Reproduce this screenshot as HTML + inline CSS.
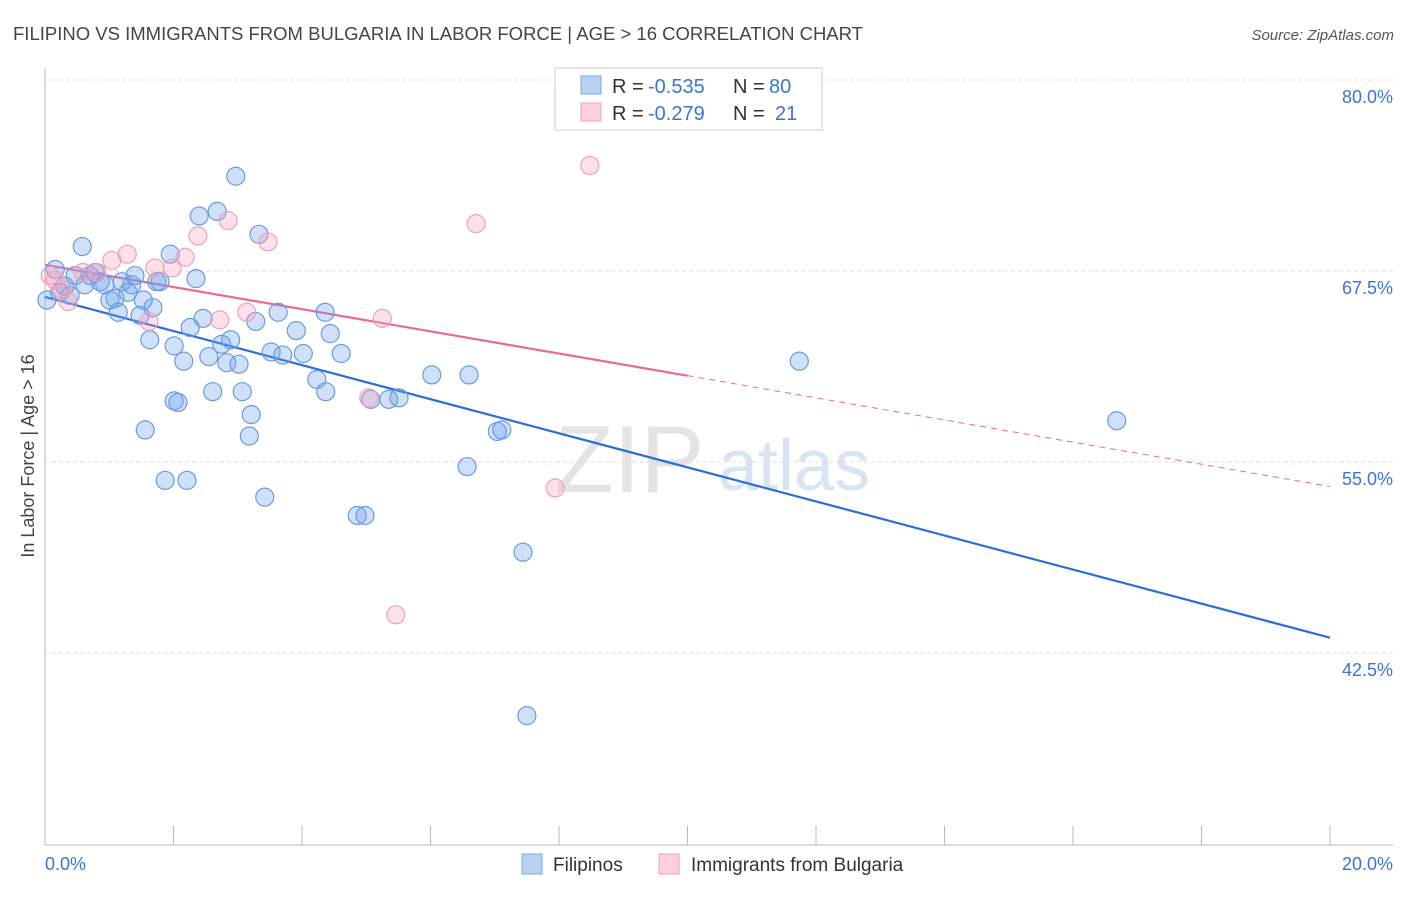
<!DOCTYPE html>
<html><head><meta charset="utf-8"><style>
body{margin:0;background:#fff;font-family:"Liberation Sans",sans-serif;}
svg text{font-family:"Liberation Sans",sans-serif;}
</style></head><body>
<svg id="chart" width="1406" height="892" viewBox="0 0 1406 892" xmlns="http://www.w3.org/2000/svg">
<text x="13" y="40" font-size="18" fill="#444" textLength="850" lengthAdjust="spacingAndGlyphs">FILIPINO VS IMMIGRANTS FROM BULGARIA IN LABOR FORCE | AGE &gt; 16 CORRELATION CHART</text>
<text x="1394" y="40" font-size="15" fill="#555" text-anchor="end" font-style="italic">Source: ZipAtlas.com</text>
<text x="555" y="492" font-size="96" fill="#e4e4e4" font-family="Liberation Serif">ZIP</text>
<text x="718" y="490" font-size="72" fill="#d8e4f4">atlas</text>
<text transform="translate(34,456) rotate(-90)" font-size="18" fill="#444" text-anchor="middle">In Labor Force | Age &gt; 16</text>
<g id="grid"></g>
<g id="axes"></g>
<g id="lines"></g>
<g id="pts"></g>
<g>
<rect x="555" y="68" width="267" height="62" fill="#fff" stroke="#ccc"/>
<rect x="581" y="76" width="20" height="18" fill="#b8d2f4" stroke="#7aa6e6"/>
<rect x="581" y="103" width="20" height="18" fill="#fbd0dc" stroke="#f0a0b8"/>
<text x="612" y="93" font-size="20" fill="#333">R =</text>
<text x="648" y="93" font-size="20" fill="#3a75d6">-0.535</text>
<text x="733" y="93" font-size="20" fill="#333">N =</text>
<text x="769" y="93" font-size="20" fill="#3a75d6">80</text>
<text x="612" y="120" font-size="20" fill="#333">R =</text>
<text x="648" y="120" font-size="20" fill="#3a75d6">-0.279</text>
<text x="733" y="120" font-size="20" fill="#333">N =</text>
<text x="775" y="120" font-size="20" fill="#3a75d6">21</text>
</g>
<g>
<rect x="522" y="854" width="20" height="20" fill="#b8d2f4" stroke="#7aa6e6"/>
<text x="553" y="871" font-size="19" fill="#333">Filipinos</text>
<rect x="659" y="854" width="20" height="20" fill="#fbd0dc" stroke="#f0a0b8"/>
<text x="691" y="871" font-size="19" fill="#333">Immigrants from Bulgaria</text>
</g>
</svg>
<script>
const blueX=[0.03,0.16,0.23,0.31,0.39,0.47,0.58,0.62,0.70,0.78,0.86,0.93,1.01,1.09,1.14,1.20,1.29,1.35,1.40,1.48,1.53,1.63,1.68,1.74,1.79,1.56,1.87,1.95,2.01,2.01,2.07,2.16,2.21,2.26,2.35,2.40,2.46,2.55,2.61,2.68,2.75,2.83,2.89,2.97,3.02,3.07,3.18,3.21,3.28,3.33,3.42,3.52,3.63,3.70,3.91,4.02,4.23,4.36,4.37,4.44,4.61,4.86,4.98,5.07,5.35,5.51,6.02,6.57,6.60,7.04,7.11,7.44,7.50,11.74,16.68];
const blueY=[65.6,67.6,66.1,66.5,65.9,67.2,69.1,66.6,67.2,67.4,66.8,66.6,65.6,65.7,64.8,66.8,66.1,66.6,67.2,64.6,65.6,63.0,65.1,66.8,66.8,57.1,53.8,68.6,59.0,62.6,58.9,61.6,53.8,63.8,67.0,71.1,64.4,61.9,59.6,71.4,62.7,61.5,63.0,73.7,61.4,59.6,56.7,58.1,64.2,69.9,52.7,62.2,64.8,62.0,63.6,62.1,60.4,64.8,59.6,63.4,62.1,51.5,51.5,59.1,59.1,59.2,60.7,54.7,60.7,57.0,57.1,49.1,38.4,61.6,57.7];
const pinkX=[0.08,0.16,0.26,0.36,0.59,0.81,1.04,1.28,1.62,1.71,1.98,2.18,2.38,2.72,2.85,3.14,3.47,5.04,5.25,5.46,6.71,7.94,8.48];
const pinkY=[67.2,66.9,66.3,65.5,67.4,67.4,68.2,68.6,64.2,67.7,67.7,68.4,69.8,64.3,70.8,64.8,69.4,59.2,64.4,45.0,70.6,53.3,74.4];
const blueTrend=[65.8,43.5];
const pinkTrend=[67.9,53.4];
const pinkSolidEnd=10;
const yTicks=[80,67.5,55,42.5];
const yTickLabels=["80.0%","67.5%","55.0%","42.5%"];
const xTickLabels=["0.0%","20.0%"];
const NS="http://www.w3.org/2000/svg";
const X=v=>45+v*64.25, Y=v=>80+(80-v)*15.28;
function mk(t,a,p){const e=document.createElementNS(NS,t);for(const k in a)e.setAttribute(k,a[k]);p.appendChild(e);return e;}
const grid=document.getElementById('grid'),axes=document.getElementById('axes');
yTicks.forEach((t,i)=>{
 const l=mk('line',{x1:45,x2:1393,y1:Y(t),y2:Y(t),stroke:'#ddd','stroke-dasharray':'4,3'},grid);
 
 
 const tx=mk('text',{x:1393,y:Y(t)+23,'font-size':18,fill:'#3a75d6','text-anchor':'end'},axes);
 tx.textContent=yTickLabels[i];
 
 
});
mk('line',{x1:45,x2:45,y1:68,y2:845,stroke:'#bbb'},axes);
mk('line',{x1:45,x2:1393,y1:845,y2:845,stroke:'#bbb'},axes);
for(let i=1;i<=10;i++){mk('line',{x1:X(i*2),x2:X(i*2),y1:826,y2:845,stroke:'#bbb'},axes);}
const xl0=mk('text',{x:45,y:870,'font-size':18,fill:'#3a75d6'},axes);xl0.textContent=xTickLabels[0];


const xl1=mk('text',{x:1393,y:870,'font-size':18,fill:'#3a75d6','text-anchor':'end'},axes);xl1.textContent=xTickLabels[1];


const pts=document.getElementById('pts');
blueX.forEach((v,i)=>{const c=mk('circle',{cx:X(v),cy:Y(blueY[i]),r:9,fill:'rgba(110,160,235,0.32)',stroke:'#6a9be0','stroke-width':1.2},pts);
 
 });
pinkX.forEach((v,i)=>{const c=mk('circle',{cx:X(v),cy:Y(pinkY[i]),r:9,fill:'rgba(245,160,190,0.32)',stroke:'#f0a0b8','stroke-width':1.2},pts);
 
 });
const lines=document.getElementById('lines');
const bl=mk('line',{x1:X(0),y1:Y(blueTrend[0]),x2:X(20),y2:Y(blueTrend[1]),stroke:'#2a6fd6','stroke-width':2.2},lines);


const pm=pinkTrend[0]+(pinkTrend[1]-pinkTrend[0])*pinkSolidEnd/20;
const pl=mk('line',{x1:X(0),y1:Y(pinkTrend[0]),x2:X(pinkSolidEnd),y2:Y(pm),stroke:'#e86a94','stroke-width':2.2},lines);


const pd=mk('line',{x1:X(pinkSolidEnd),y1:Y(pm),x2:X(20),y2:Y(pinkTrend[1]),stroke:'#e86a94','stroke-width':1,'stroke-dasharray':'6,5'},lines);


</script>
</body></html>
